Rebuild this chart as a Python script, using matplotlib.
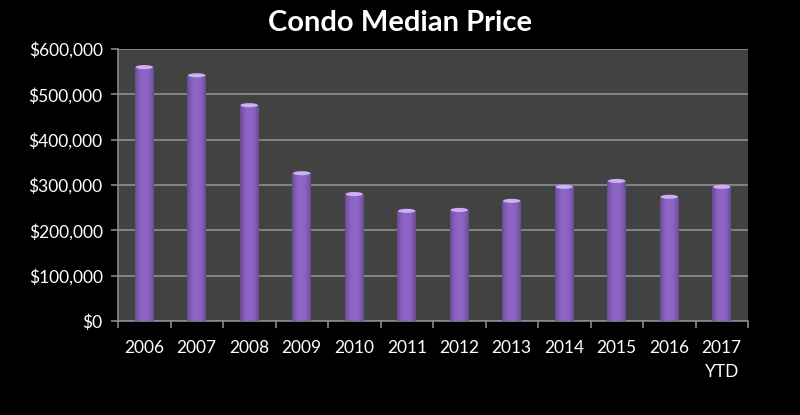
import matplotlib
matplotlib.use("Agg")
import matplotlib.pyplot as plt
import numpy as np
from matplotlib.patches import Ellipse
from matplotlib.ticker import FuncFormatter, MultipleLocator

years = ["2006", "2007", "2008", "2009", "2010", "2011", "2012", "2013",
         "2014", "2015", "2016", "2017\nYTD"]
prices = [560000, 542000, 476000, 326000, 280000, 243000, 245000, 265000,
          296000, 309000, 274000, 296000]

plt.rcParams['font.family'] = ['Lato', 'DejaVu Sans']

fig = plt.figure(figsize=(8, 4.15), dpi=100, facecolor='black')
ax = fig.add_axes([0.1475, 0.2265, 0.7875, 0.6555])
ax.set_facecolor('#424242')

x = np.arange(len(years))
width = 0.36
bars = ax.bar(x, prices, width=width, color='#8a62c4', zorder=3)

# cylinder-like horizontal gradient
grad = np.linspace(-1, 1, 64)
shade = 1.02 - 0.28 * np.abs(grad) ** 2.2
base = np.array([0.55, 0.39, 0.77])
img = np.clip(base[None, None, :] * shade[None, :, None], 0, 1)
for b in bars:
    x0, y0 = b.get_x(), b.get_y()
    w, h = b.get_width(), b.get_height()
    im = ax.imshow(img, extent=[x0, x0 + w, y0, y0 + h], aspect='auto',
                   zorder=4, interpolation='bilinear')
    im.set_clip_path(b)
    cap = Ellipse((x0 + w / 2, y0 + h), w * 0.92, 9000, facecolor='#cdb0f2',
                  edgecolor='none', zorder=5)
    ax.add_patch(cap)

ax.set_xlim(-0.5, len(years) - 0.5)
ax.set_ylim(0, 600000)
ax.yaxis.set_major_locator(MultipleLocator(100000))
ax.yaxis.set_major_formatter(FuncFormatter(lambda v, p: f"${v:,.0f}"))
ax.grid(axis='y', color='#8a8a8a', linewidth=1.3, zorder=1)
ax.set_axisbelow(True)

ax.set_xticks(x)
ax.set_xticklabels(years, linespacing=1.6, va='top')
ax.set_xticks(np.arange(-0.5, len(years), 1), minor=True)
ax.tick_params(axis='x', which='major', length=0, colors='white',
               labelsize=12.5, pad=14)
ax.tick_params(axis='x', which='minor', length=5, color='#8a8a8a', width=1.2)
ax.tick_params(axis='y', colors='white', labelsize=12.5, length=5,
               color='#8a8a8a', width=1.2, pad=6)
for lbl in ax.get_xticklabels():
    lbl.set_color('white')

for s in ['top', 'right']:
    ax.spines[s].set_visible(False)
for s in ['left', 'bottom']:
    ax.spines[s].set_color('#8a8a8a')
    ax.spines[s].set_linewidth(1.2)

fig.text(0.5, 0.945, "Condo Median Price", color='white', fontsize=21,
         fontweight='bold', ha='center', va='center')

fig.savefig("out.png", dpi=100, facecolor='black')
